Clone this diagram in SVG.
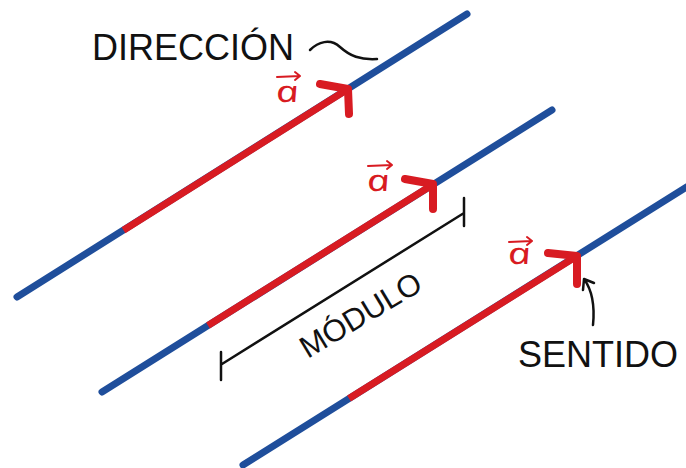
<svg xmlns="http://www.w3.org/2000/svg" width="686" height="468" viewBox="0 0 686 468">
<defs>
<style>
.blue{stroke:#1f4e9b;stroke-width:7;stroke-linecap:round;fill:none}
.red{stroke:#d81b22;stroke-width:7;stroke-linecap:butt;fill:none}
.head{stroke:#d81b22;stroke-width:8;stroke-linecap:round;stroke-linejoin:round;fill:none}
.lbl{font-family:"Liberation Sans",Arial,sans-serif;font-size:36px;fill:#111}
.vec{font-family:"Noto Sans","Open Sans",sans-serif;font-style:italic;font-size:30px;fill:#d81b22;text-anchor:middle}
.over{stroke:#d81b22;stroke-width:2;fill:none;stroke-linecap:round;stroke-linejoin:round}
.ink{stroke:#111;stroke-width:2.5;fill:none;stroke-linecap:round;stroke-linejoin:round}
</style>
</defs>
<rect width="686" height="468" fill="#fff"/>
<g id="connectors">
<g id="vector1">
<line class="blue" x1="17" y1="297" x2="467" y2="14"/>
<line class="red" x1="123.5" y1="230.2" x2="348" y2="89"/>
<path class="head" d="M320,84 L348,89 L349,114"/>
</g>
<g id="vector2">
<line class="blue" x1="102" y1="392" x2="552" y2="110"/>
<line class="red" x1="208" y1="325.5" x2="433" y2="184.5"/>
<path class="head" d="M405,179 L433,184 L433,209"/>
</g>
<g id="vector3">
<line class="blue" x1="243" y1="465" x2="700" y2="178.5"/>
<line class="red" x1="349" y1="398.5" x2="577" y2="256"/>
<path class="head" d="M548,253 L577,256 L577,284"/>
</g>
</g>
<g id="label-a1">
<text class="vec" transform="translate(289,102) skewX(12) scale(1.35,1)">a</text>
<path class="over" d="M277,77 L300,76 M295,72 L300,76 L295,80"/>
</g>
<g id="label-a2">
<text class="vec" transform="translate(380,191) skewX(12) scale(1.35,1)">a</text>
<path class="over" d="M368,166 L392,165 M387,161 L392,165 L387,169"/>
</g>
<g id="label-a3">
<text class="vec" transform="translate(521,264) skewX(12) scale(1.35,1)">a</text>
<path class="over" d="M509,242 L532,241 M527,237 L532,241 L527,245"/>
</g>
<g id="direccion">
<text class="lbl" x="92" y="60">DIRECCIÓN</text>
<path class="ink" d="M310,50 C318,42 330,38 340,47 C350,56 360,60 377,59"/>
</g>
<g id="modulo">
<path class="ink" d="M222,364 L464,213 M221,352 L221,380 M464,198 L464,226"/>
<text class="lbl" style="font-size:31px" text-anchor="middle" transform="translate(366,324) rotate(-31)">MÓDULO</text>
</g>
<g id="sentido">
<text class="lbl" x="518" y="367">SENTIDO</text>
<path class="ink" d="M593,325 C595,305 592,290 584,279 M584,279 L583,290 M584,279 L594,283"/>
</g>
</svg>
